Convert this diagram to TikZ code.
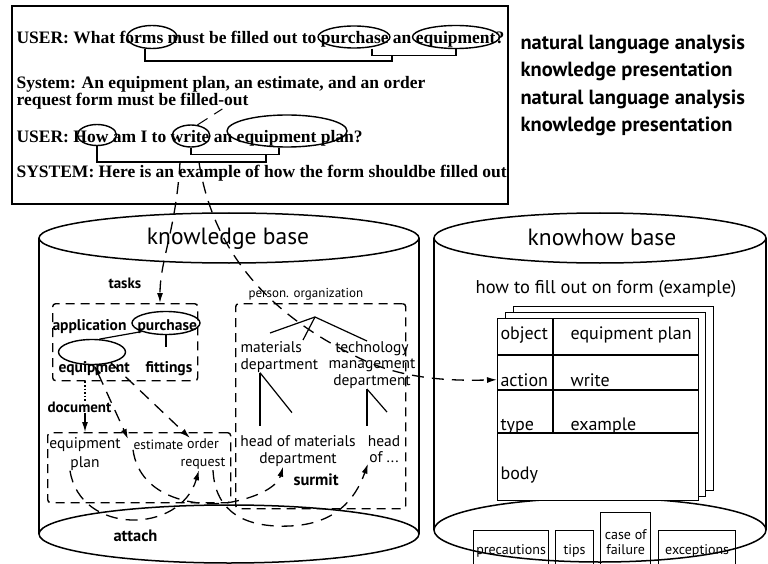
\documentclass[tikz,border=0pt]{standalone}
\usepackage{fontspec}
\setmainfont{Liberation Serif}
\setsansfont{PT Sans}
\usetikzlibrary{arrows.meta,positioning,calc,shapes.geometric}
\tikzset{
  % Base styles
  diagram base/.style={
    >={Latex[length=10pt,width=6pt]},
    x=1pt, y=-1pt,
    every node/.style={inner sep=0pt},
    line width=1.1pt,
  },
  % Dialogue box
  dialog line/.style={anchor=base west, font=\fontsize{17.5}{20}\selectfont\bfseries},
  side note/.style={anchor=base west, font=\fontsize{20.5}{22}\selectfont\sffamily\bfseries},
  word ring/.style={ellipse, draw, line width=1.4pt, inner sep=0pt},
  ring bracket/.style={line width=1.4pt},
  % Bases
  base outline/.style={line width=1.5pt},
  base title/.style={font=\fontsize{23.5}{26}\selectfont\sffamily},
  concept/.style={font=\fontsize{15.5}{16.5}\selectfont\sffamily, align=center},
  concept bold/.style={anchor=base west, font=\fontsize{15.5}{16.5}\selectfont\sffamily\bfseries},
  concept label/.style={anchor=base west, font=\fontsize{15}{16}\selectfont\sffamily\bfseries},
  group box/.style={draw, dash pattern=on 9pt off 6pt, line width=1.4pt, rounded corners=3pt, anchor=north west},
  link/.style={dash pattern=on 12pt off 8pt, line width=1.3pt},
  tree edge/.style={line width=1.2pt},
  % Form card
  card/.style={draw, fill=white, line width=1.3pt, anchor=north west},
  card rule/.style={line width=1.3pt},
  cell text/.style={anchor=base west, font=\fontsize{18}{20}\selectfont\sffamily},
  facet/.style={draw, line width=1.3pt, font=\fontsize{14}{15}\selectfont\sffamily, align=center, anchor=north west, minimum height=40},
}

\begin{document}
\begin{tikzpicture}[diagram base]
  \useasboundingbox (0,0) rectangle (768,564);

  % ---- dialogue ----
  \node[draw, line width=1.6pt, minimum width=496, minimum height=198, anchor=north west] (dialog) at (11,5) {};
  \node[dialog line] (u1) at (16,44) {USER: What forms must be filled out to purchase an equipment?};
  \node[dialog line] (s1) at (16,89) {System: An equipment plan, an estimate, and an order};
  \node[dialog line] (s1b) at (16,106) {request form must be filled-out};
  \node[dialog line] (u2) at (16,143) {USER: How am I to write an equipment plan?};
  \node[dialog line] (s2) at (16,178) {SYSTEM: Here is an example of how the form shouldbe filled out};

  \node[word ring, minimum width=50, minimum height=23] (rForms) at (152,37) {};
  \node[word ring, minimum width=72, minimum height=22] (rPurch) at (354,37) {};
  \node[word ring, minimum width=87, minimum height=23] (rEquip) at (456,37) {};
  \draw[ring bracket] ([xshift=18]rPurch.south) -- ++(0,7) coordinate (bPE) -| (rEquip.south);
  \draw[ring bracket] ([xshift=-7]rForms.south) -- ++(0,12) -| ($(bPE)+(20,0)$);

  \node[word ring, minimum width=39, minimum height=21] (rHow) at (97,135) {};
  \node[word ring, minimum width=38, minimum height=22] (rWrite) at (191,136) {};
  \node[word ring, minimum width=120, minimum height=32] (rPlan) at (287,131) {};
  \draw[ring bracket] (rWrite.south) -- ++(0,7) coordinate (bWP) -| ([xshift=-8]rPlan.south);
  \draw[ring bracket] (rHow.south) -- ++(0,16) coordinate (bHow) -| ($(bWP)+(75,0)$);
  \draw[link, line width=1pt] (rWrite.60) -- ++(25,-16);
  \coordinate (dTask) at ($(bHow)+(83,0)$);
  \coordinate (dForm) at ($(bHow)+(102,0)$);

  % ---- side notes ----
  \node[side note] (n1) at (520,50) {natural language analysis};
  \node[side note] (n2) at (520,77) {knowledge presentation};
  \node[side note] (n3) at (520,105) {natural language analysis};
  \node[side note] (n4) at (520,132) {knowledge presentation};

  % ---- knowledge base ----
  \coordinate (kbTop) at (229,238);
  \coordinate (kbBot) at (229,534);
  \draw[base outline] (kbBot) ellipse [x radius=190pt, y radius=29pt];
  \draw[base outline] ($(kbTop)+(-190,0)$) -- ($(kbBot)+(-190,0)$);
  \draw[base outline] ($(kbTop)+(190,0)$) -- ($(kbBot)+(190,0)$);
  \draw[base outline, fill=white] (kbTop) ellipse [x radius=190pt, y radius=25pt];
  \node[base title] (kbTitle) at (228,239) {knowledge base};

  \node[group box, minimum width=145, minimum height=77] (taskBox) at (52,303) {};
  \node[group box, minimum width=183, minimum height=70] (docBox) at (47,432) {};
  \node[group box, minimum width=170, minimum height=205] (orgBox) at (235,303) {};

  \node[concept label] (lTasks) at (108,288) {tasks};
  \node[concept bold] (kApp) at (52,330) {application};
  \node[concept bold] (kPurch) at (137,330) {purchase};
  \node[concept bold] (kEquip) at (58,372) {equipment};
  \node[concept bold] (kFit) at (145,372) {fittings};
  \node[word ring, minimum width=68, minimum height=23] (kPurchRing) at (166,323) {};
  \node[word ring, minimum width=67, minimum height=25] (kEquipRing) at (92,352) {};
  \draw[tree edge] (kPurchRing.south west) -- (kEquipRing.60);
  \draw[tree edge] (kPurchRing.south) -- ++(0,12);

  \node[concept label] (lDoc) at (47,412) {document};
  \node[concept, anchor=north, font=\fontsize{15.5}{18.5}\selectfont\sffamily] (kEqPlan) at (85,437) {equipment\\plan};
  \node[concept, anchor=north west, font=\fontsize{13.5}{15}\selectfont\sffamily] (kEstimate) at (133,439) {estimate};
  \node[concept, anchor=north, font=\fontsize{14}{18.5}\selectfont\sffamily] (kOrder) at (203,438) {order\\request};

  \node[font=\fontsize{13}{15}\selectfont\sffamily, anchor=base west] (lPerson) at (248,297) {person. organization};
  \node[concept, anchor=north west, align=left] (kMatDept) at (240,341) {materials\\department};
  \node[concept, anchor=north] (kTechDept) at (372,341) {technology\\management\\department};
  \node[concept, anchor=north] (kHeadMat) at (298,435) {head of materials\\department};
  \node[concept, anchor=north] (kHeadOf) at (384,435) {head\\of ...};

  \coordinate (orgRoot) at (315,317);
  \draw[tree edge] (orgRoot) -- ($(kMatDept.north west)+(30,-8)$);
  \draw[tree edge] (orgRoot) -- ++(-12,23);
  \draw[tree edge] (orgRoot) -- ($(kTechDept.north)+(-5,0)$);
  \draw[tree edge] ([xshift=20]kMatDept.south west) coordinate (mf) -- ($(mf |- kHeadMat.north)+(0,-9)$);
  \draw[tree edge] (mf) -- ++(32,40);
  \draw[tree edge] ([xshift=-5]kTechDept.south) coordinate (tf) -- ($(tf |- kHeadOf.north)+(0,-9)$);
  \draw[tree edge] (tf) -- ++(20,23);

  \node[concept label, font=\fontsize{16.5}{17}\selectfont\sffamily\bfseries] (lAttach) at (113,541) {attach};
  \node[concept label, font=\fontsize{16.5}{17}\selectfont\sffamily\bfseries] (lSurmit) at (293,485) {surmit};

  % ---- links ----
  \draw[link,->] (dTask) .. controls (176,230) and (160,260) .. ($(taskBox.north -| kPurchRing)+(-6,0)$);
  \draw[dotted, line width=1.6pt] (taskBox.south -| kEqPlan) -- (lDoc.north -| kEqPlan);
  \draw[->] (lDoc.south -| kEqPlan) -- (docBox.north -| kEqPlan);
  \draw[link,<->] (kEquipRing.-80) -- ([xshift=-5]kEstimate.north west);
  \draw[link,->] (kEquipRing.-30) -- ([xshift=-13]kOrder.north);
  \draw[link,->] ([xshift=-15]kEqPlan.south) .. controls (80,535) and (180,535) .. ([xshift=-4]kOrder.south);
  \draw[link,->] (kEstimate.south west) .. controls (140,500) and (200,508) .. (232,502) .. controls (262,496) and (278,485) .. ([xshift=-15]kHeadMat.south);
  \draw[link,->] ([xshift=10]kOrder.south) .. controls (215,512) and (245,528) .. (290,526) .. controls (335,524) and (355,500) .. ([xshift=-16]kHeadOf.south);

  % ---- knowhow base ----
  \coordinate (khTop) at (600,238);
  \coordinate (khBot) at (600,530);
  \draw[base outline] (khBot) ellipse [x radius=166pt, y radius=32pt];
  \draw[base outline] ($(khTop)+(-166,0)$) -- ($(khBot)+(-166,0)$);
  \draw[base outline] ($(khTop)+(166,0)$) -- ($(khBot)+(166,0)$);
  \draw[base outline, fill=white] (khTop) ellipse [x radius=166pt, y radius=25pt];
  \node[base title] (khTitle) at (602,237) {knowhow base};

  \node[font=\fontsize{18.5}{20}\selectfont\sffamily] (formTitle) at (606,289) {how to fill out on form (example)};
  \node[card, minimum width=200, minimum height=184] (card3) at (513,306) {};
  \node[card, minimum width=200, minimum height=184] (card2) at (505,312) {};
  \node[card, minimum width=201, minimum height=182] (card1) at (497,318) {};
  \draw[card rule] ([yshift=-37]card1.north west) -- ++(201,0);
  \draw[card rule] ([yshift=-72]card1.north west) -- ++(201,0);
  \draw[card rule] ([yshift=-115]card1.north west) -- ++(201,0);
  \draw[card rule] ([xshift=56]card1.north west) -- ++(0,115);
  \node[cell text] (cObject) at (500,339) {object};
  \node[cell text] (cObjVal) at (570,339) {equipment plan};
  \node[cell text] (cAction) at (500,386) {action};
  \node[cell text] (cActVal) at (570,386) {write};
  \node[cell text] (cType) at (500,430) {type};
  \node[cell text] (cTypeVal) at (570,430) {example};
  \node[cell text] (cBody) at (500,479) {body};

  \draw[link,->] (dForm) .. controls (215,265) and (285,325) .. (370,363) .. controls (410,379) and (450,381) .. (card1.west |- cAction.west);

  \node[facet, minimum width=75] (fPrec) at (473,530) {precautions};
  \node[facet, minimum width=38] (fTips) at (555,530) {tips};
  \node[facet, minimum width=50, minimum height=58] (fFail) at (600,512) {case of\\failure};
  \node[facet, minimum width=77] (fExc) at (658,530) {exceptions};
\end{tikzpicture}
\end{document}
